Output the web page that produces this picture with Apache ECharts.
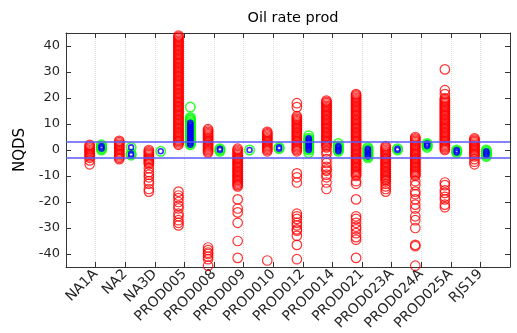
<!DOCTYPE html>
<html>
<head>
<meta charset="utf-8">
<script src="https://cdn.jsdelivr.net/npm/echarts@6/dist/echarts.min.js"></script>
<style>
  html, body { margin: 0; padding: 0; background: #fff; }
  #chart { width: 517px; height: 333px; }
</style>
</head>
<body>
<div id="chart"></div>
<script>
const categories = ['NA1A', 'NA2', 'NA3D', 'PROD005', 'PROD008', 'PROD009', 'PROD010',
  'PROD012', 'PROD014', 'PROD021', 'PROD023A', 'PROD024A', 'PROD025A', 'RJS19'];

const yTicks = [-40, -30, -20, -10, 0, 10, 20, 30, 40];
const limitLines = [3, -3];

// red circles, one list per category
const redValues = [
  [2, 1.5, 1, 0.5, 0, -0.5, -1, -1.5, -2, -2.5, -3, -4, -5.5],
  [3.5, 3, 2.5, 2, 1.5, 1, 0.5, 0, -0.5, -1, -1.5, -2, -2.5, -3, -3.5],
  [0, -0.5, -1, -1.5, -2, -2.5, -3, -3.5, -4, -4.5, -5, -5.5, -7, -8.5, -9.5, -10.5, -12, -13, -15, -16],
  [44, 43.5, 43, 42.5, 42, 41.5, 41, 40.5, 40, 39.5, 39, 38.5, 38, 37.5, 37, 36.5, 36, 35.5, 35, 34.5,
   34, 33.5, 33, 32.5, 32, 31.5, 31, 30.5, 30, 29.5, 29, 28.5, 28, 27.5, 27, 26.5, 26, 25.5, 25, 24.5,
   24, 23.5, 23, 22.5, 22, 21.5, 21, 20.5, 20, 19.5, 19, 18.5, 18, 17.5, 17, 16.5, 16, 15.5, 15, 14.5,
   14, 13.5, 13, 12.5, 12, 11.5, 11, 10.5, 10, 9.5, 9, 8.5, 8, 7.5, 7, 6.5, 6, 5.5, 5, 4.5, 4, 3.5, 3, 2.5, 2,
   -16, -17.5, -18.5, -20, -21.5, -22.5, -24.5, -25.5, -27, -28, -29],
  [8, 7.5, 7, 6.5, 6, 5.5, 5, 4.5, 4, 3.5, 3, 2.5, 2, 1.5, 1, 0.5, 0, -0.5, -1,
   -37.5, -38.5, -39.5, -40, -41, -42, -44.5],
  [0.5, 0, -0.5, -1, -1.5, -2, -2.5, -3, -3.5, -4, -4.5, -5, -5.5, -6, -6.5, -7, -7.5, -8, -8.5, -9,
   -9.5, -10, -10.5, -11, -11.5, -12, -12.5, -13, -13.5, -14, -19, -22.5, -24, -28, -35, -41.5],
  [7, 6.5, 6, 5.5, 5, 4.5, 4, 3.5, 3, 2.5, 2, 1.5, 1, 0.5, 0, -0.5, -42.5],
  [18, 16.5, 13, 12.5, 12, 11.5, 11, 10.5, 10, 9.5, 9, 8.5, 8, 7.5, 7, 6.5, 6, 5.5, 5, 4.5, 4, 3.5, 3,
   2.5, 2, 1.5, 1, 0.5, 0, -0.5, -9, -10.5, -12.5, -24.5, -25.5, -26.5, -28, -29, -30.5, -31, -33, -36.5, -42],
  [19, 18.5, 18, 17.5, 17, 16.5, 16, 15.5, 15, 14.5, 14, 13.5, 13, 12.5, 12, 11.5, 11, 10.5, 10, 9.5,
   9, 8.5, 8, 7.5, 7, 6.5, 6, 5.5, 5, 4.5, 4, 3.5, 3, 2.5, 2, 1.5, 1,
   -0.5, -1.5, -3.5, -5, -6.5, -7.5, -8, -9.5, -10.5, -12.5, -15],
  [21.5, 21, 20.5, 20, 19.5, 19, 18.5, 18, 17.5, 17, 16.5, 16, 15.5, 15, 14.5, 14, 13.5, 13, 12.5, 12,
   11.5, 11, 10.5, 10, 9.5, 9, 8.5, 8, 7.5, 7, 6.5, 6, 5.5, 5, 4.5, 4, 3.5, 3, 2.5, 2, 1.5, 1, 0.5, 0,
   -0.5, -1, -1.5, -2, -2.5, -3, -3.5, -4, -4.5, -5, -5.5, -6, -6.5, -7, -7.5, -8, -8.5, -9, -9.5, -10,
   -12, -13, -19, -25.5, -26.5, -28, -29.5, -30.5, -32, -33.5, -34.5, -41.5],
  [1.5, 1, 0.5, 0, -0.5, -1, -1.5, -2, -2.5, -3, -3.5, -4, -4.5, -5, -5.5, -6, -6.5, -7, -7.5, -8,
   -8.5, -9, -9.5, -10, -10.5, -11, -11.5, -12, -13, -14, -15, -16],
  [5, 4.5, 4, 3.5, 3, 2.5, 2, 1.5, 1, 0.5, 0, -0.5, -1, -1.5, -2, -2.5, -3, -3.5, -4, -4.5, -5, -5.5,
   -6, -6.5, -7, -7.5, -8, -8.5, -9, -9.5, -10,
   -12, -13.5, -16, -17, -19, -21, -22.5, -25.5, -27, -30, -36.5, -37, -44.5],
  [31, 23, 21.5, 20, 19.5, 19, 18.5, 18, 17.5, 17, 16.5, 16, 15.5, 15, 14.5, 14, 13.5, 13, 12.5, 12,
   11.5, 11, 10.5, 10, 9.5, 9, 8.5, 8, 7.5, 7, 6.5, 6, 5.5, 5, 4.5, 4, 3.5, 3, 2.5, 2, 1.5, 1, 0.5, 0,
   -12.5, -13.5, -15.5, -16.5, -18, -19, -21, -22],
  [4.5, 4, 3.5, 3, 2.5, 2, 1.5, 1, 0.5, 0, -0.5, -1, -1.5, -2, -2.5, -3.5, -4.5, -5.5]
];

// green circles
const greenValues = [
  [2, 1.5, 1, 0.5, 0],
  [1, -1.5, -2],
  [-0.5],
  [16.5, 12.5, 12, 11.5, 11, 10.5, 10, 9.5, 9, 8.5, 8, 7.5, 7, 6.5, 6, 5.5, 5, 4.5, 4, 3.5, 3, 2.5, 2],
  [0.5, 0, -0.5],
  [0],
  [1, 0.5],
  [5.5, 4.5, 4, 3.5, 3, 2.5, 2, 1.5, 1, 0.5, 0, -1],
  [2.5, 1.5, 1, 0.5, 0, -0.5],
  [1, 0.5, 0, -0.5, -1, -1.5, -2, -2.5, -3],
  [0.5, 0],
  [2.5, 2, 1.5, 1],
  [0, -0.5, -1],
  [0, -0.5, -1, -1.5, -2, -2.5]
];

// small blue circles inside the green ones
const blueValues = [
  [1.5, 1, 0.5],
  [1, -1.5, -2],
  [-0.5],
  [10.5, 10, 9.5, 9, 8.5, 8, 7.5, 7, 6.5, 6, 5.5, 5, 4.5, 4, 3.5, 3, 2.5, 2],
  [0.5, 0],
  [0],
  [1, 0.5],
  [4.5, 4, 3.5, 3, 2.5, 2, 1.5, 1, 0.5, 0],
  [1.5, 1, 0.5, 0, -0.5],
  [0.5, 0, -0.5, -1, -1.5, -2, -2.5],
  [0.5, 0],
  [2.5, 2, 1.5],
  [0, -0.5, -1],
  [-0.5, -1, -1.5, -2]
];

const FONT = 'DejaVu Sans';
const TEXT = '#262626';
const RED_SHIFT = -0.2; // red sits left of the tick, green/blue right
const GREEN_SHIFT = 0.2;

function toPoints(lists, shift) {
  const pts = [];
  lists.forEach((vals, i) => vals.forEach((v) => pts.push([i + 1 + shift, v])));
  return pts;
}

function ring(color, width) {
  return { color: 'rgba(0,0,0,0)', borderColor: color, borderWidth: width };
}

const chart = echarts.init(document.getElementById('chart'), null, { renderer: 'canvas' });

const xBase = {
  type: 'value',
  min: 0,
  max: 15,
  interval: 1,
  axisLine: { show: true, onZero: false, lineStyle: { color: '#333', width: 1 } },
  axisTick: { inside: true, length: 5, lineStyle: { color: '#333' } }
};
const yBase = {
  type: 'value',
  min: -45,
  max: 45,
  axisLine: { show: true, onZero: false, lineStyle: { color: '#333', width: 1 } },
  axisTick: { inside: true, length: 5, customValues: yTicks, lineStyle: { color: '#333' } },
  splitLine: { show: false }
};

chart.setOption({
  animation: false,
  backgroundColor: '#fff',
  title: {
    text: 'Oil rate prod',
    left: 288,
    top: 6,
    textAlign: 'center',
    textStyle: { fontFamily: FONT, fontSize: 14.5, fontWeight: 'normal', color: '#000' }
  },
  grid: { left: 66, right: 7, top: 33, bottom: 49, containLabel: false },
  xAxis: [
    {
      ...xBase,
      position: 'bottom',
      axisLabel: {
        rotate: 45,
        margin: 5,
        fontFamily: FONT,
        fontSize: 14,
        color: TEXT,
        formatter: (v) => categories[v - 1] || ''
      },
      splitLine: { show: true, lineStyle: { color: '#dcdcdc', type: 'dotted', width: 1 } }
    },
    {
      ...xBase,
      position: 'top',
      axisLabel: { show: false },
      splitLine: { show: false }
    }
  ],
  yAxis: [
    {
      ...yBase,
      position: 'left',
      name: 'NQDS',
      nameLocation: 'middle',
      nameGap: 33,
      nameTextStyle: { fontFamily: FONT, fontSize: 15, color: '#000' },
      axisLabel: { customValues: yTicks, margin: 6, fontFamily: FONT, fontSize: 13, color: TEXT }
    },
    {
      ...yBase,
      position: 'right',
      axisLabel: { show: false }
    }
  ],
  series: [
    {
      type: 'scatter',
      data: toPoints(redValues, RED_SHIFT),
      symbol: 'circle',
      symbolSize: 9.5,
      itemStyle: ring('#ff0000', 1.2),
      z: 2
    },
    {
      type: 'scatter',
      data: toPoints(greenValues, GREEN_SHIFT),
      symbol: 'circle',
      symbolSize: 9.5,
      itemStyle: ring('#00ff00', 1.5),
      z: 3
    },
    {
      type: 'scatter',
      data: toPoints(blueValues, GREEN_SHIFT),
      symbol: 'circle',
      symbolSize: 5,
      itemStyle: ring('#0000ff', 1.6),
      z: 4,
      markLine: {
        silent: true,
        symbol: 'none',
        label: { show: false },
        lineStyle: { color: '#5a5aff', width: 1.5, type: 'solid' },
        data: limitLines.map((v) => ({ yAxis: v }))
      }
    }
  ]
});
</script>
</body>
</html>
